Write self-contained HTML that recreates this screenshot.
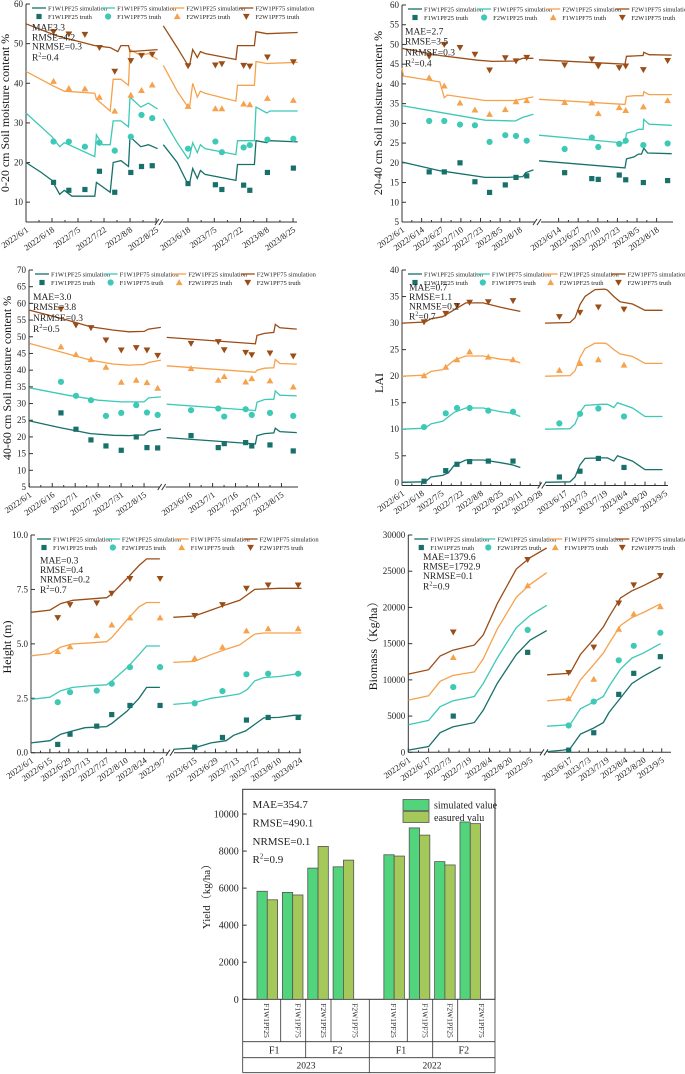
<!DOCTYPE html>
<html><head><meta charset="utf-8"><style>
html,body{margin:0;padding:0;background:#fff}
svg{display:block;font-family:"Liberation Serif","Noto Serif CJK SC",serif}
</style></head><body>
<svg id="fig" width="685" height="1074" viewBox="0 0 685 1074" xmlns="http://www.w3.org/2000/svg"></svg>
<script>
// ---------- DATA ----------
const seriesColors=['#17706a','#3ec9b6','#f6a24c','#9a4d16'];
// Panel 1: 0-20 cm
const p1SimL=[
[[0,20],[10,17.5],[17,15.5],[22,12],[25,13],[30,11.5],[45,11.5],[46,15],[55,12.5],[57,20],[62,20.5],[67,19],[68,26.5],[75,24],[80,24.5],[86,23.5]],
[[0,32.5],[17,26.5],[22,24],[25,25],[45,21.5],[46,27],[50,24.5],[55,24.5],[57,30.5],[62,30.5],[67,29],[68,36.5],[75,34],[80,35],[86,33.5]],
[[0,43],[17,39.5],[25,38],[45,37.5],[46,36],[55,33],[57,41],[62,41],[67,39.5],[68,48.5],[75,47],[80,47.5],[86,46]],
[[0,55],[20,52],[45,49.5],[55,49],[60,48],[62,49.5],[67,49.5],[68,48],[86,48.5]]];
const p1SimR=[
[[1,24.5],[10,20],[17,14.5],[18,14.8],[20,18.5],[23,16],[25,18],[28,17],[48,15.5],[49,19.5],[60,19.5],[61,25.5],[68,25],[70,25.5],[88,25.2]],
[[1,31],[10,25],[17,21],[18,21.5],[20,25],[23,22.5],[25,24.5],[28,23.5],[48,22],[49,25.5],[60,25.5],[61,34],[68,32.5],[70,33],[88,33]],
[[1,44.5],[10,38],[17,34],[18,34],[20,40],[23,36.5],[25,38],[28,37.5],[48,35.5],[49,39.5],[60,39.5],[61,45.5],[68,45],[88,45.3]],
[[1,54.5],[10,49],[17,44.5],[18,44.5],[20,48.5],[23,46.5],[25,48],[28,47.5],[48,46],[49,49.5],[60,49.5],[61,53],[68,52.5],[88,52.8]]];
const p1TDaysL=[18,28,38.5,48,58,68.5,75.5,82.5];
const p1TruthL=[[15,13,13.2,17.8,12.5,17.5,19,19.2],[25.3,25.3,24,25,23,26.5,32,31.2],[40.5,38.7,38.6,36.5,33,37,38.2,39.6],[53,52.4,52.3,49,43,45.7,47,47.3]];
const p1TDaysR=[17,34.7,38.9,53,57,68.4,85.2];
const p1TruthR=[[14.7,14.4,13.2,14.3,13,17.5,18.6],[23.5,25.3,22.6,23.8,24.4,25.8,26],[34.2,33.6,33.6,34.8,34.6,36.2,35.7],[44.4,44.6,44.9,44.5,44.3,46.6,45.4]];
const p1TicksL=['2022/6/1','2022/6/18','2022/7/5','2022/7/22','2022/8/8','2022/8/25'];
const p1TicksR=['2023/6/18','2023/7/5','2023/7/22','2023/8/8','2023/8/25'];
// Panel 2: 20-40 cm
const p2SimL=[
[[0,20.2],[25,18],[55,16.3],[70,16.3],[80,16.5],[82,17.5],[87,18.2]],
[[0,34.5],[25,32.8],[55,30.8],[75,30.6],[80,31.5],[87,32.3]],
[[0,44],[1,42],[25,40.5],[28,36.5],[30,37.2],[55,35.8],[75,35.8],[87,36.7]],
[[0,49],[25,47.2],[50,46],[60,45.7],[75,45.8],[80,46.5],[87,46.5]]];
const p2SimR=[
[[0,20.5],[57,18.7],[58,21],[63,21.5],[66,22.2],[68,22.2],[69.5,23.7],[72,22.5],[88,22.3]],
[[0,27],[57,25],[58,27.5],[63,28],[66,28.5],[69,28.5],[69.5,31],[73,29.8],[88,29.5]],
[[0,36.1],[57,34.8],[58,36.8],[63,37],[69,37],[69.5,38],[73,37.3],[88,37.3]],
[[0,46.1],[57,45],[58,47],[69,47.2],[69.5,48],[73,47.4],[88,47.3]]];
const p2TDaysL=[18,28,38.4,48.3,58,68.4,75.5,82.6];
const p2TruthL=[[17.7,17.7,20,15.2,12.5,14.4,16.3,16.7],[30.6,30.6,29.7,29.5,25.3,27,26.8,25.6],[41.6,39.5,35.2,33.4,32.3,33.5,35.5,35.8],[47,50,49.2,47.5,43.5,46.6,45.8,46.7]];
const p2TDaysR=[17,35,39.3,53.2,57.5,69.2,85.3];
const p2TruthR=[[17.5,16,15.8,16.9,15.7,15,15.5],[23.5,26.4,24,24.8,25.6,24.5,24.9],[35.3,35.2,32.5,34,33.3,34.2,35.8],[44.8,46.3,44.5,44.1,44.5,43.6,45.9]];
const p2TicksL=['2022/6/1','2022/6/14','2022/6/27','2022/7/10','2022/7/23','2022/8/5','2022/8/18'];
const p2TicksR=['2023/6/14','2023/6/27','2023/7/10','2023/7/23','2023/8/5','2023/8/18'];
// Panel 3: 40-60 cm
const p3SimL=[
[[0,24.8],[20,22.8],[40,21],[55,20.5],[65,20.4],[75,20.6],[78,21.7],[86,22.3]],
[[0,34.7],[25,32.5],[45,31],[60,30.5],[75,30.5],[78,31.7],[86,32]],
[[0,48],[20,45.5],[40,43],[55,41.8],[65,41.5],[75,41.7],[78,42.3],[86,43]],
[[0,58],[25,55],[40,53],[55,52],[65,51.5],[75,51.6],[78,52.3],[86,52.8]]];
const p3SimR=[
[[0,19.8],[58,17.9],[59,20.4],[64,21],[70,21.2],[71,22.6],[74,21.6],[85,21.3]],
[[0,29.8],[58,27.9],[59,30.4],[64,31.2],[70,31.3],[71,33.8],[74,32.5],[85,32.3]],
[[0,41.3],[58,39.4],[59,40],[64,40.6],[70,40.7],[71,43.2],[74,42],[85,41.8]],
[[0,49.8],[58,47.9],[59,50.4],[64,51],[70,51.3],[71,53.7],[74,52.7],[85,52.3]]];
const p3TDaysL=[20.7,30.5,40.3,50.1,60.1,69.9,76.9,83.9];
const p3TruthL=[[27.2,22.3,19.1,17.3,16,20,16.8,16.7],[36.5,32.3,31,26.3,27.2,29.5,27.3,26.6],[47,44.7,43.2,40.9,36.4,37,36.3,34.6],[58.3,53.5,52.7,49,46,46.7,46,44.4]];
const p3TDaysR=[15.9,33.7,37.6,51.6,55.6,67.5,82.7];
const p3TruthR=[[20.4,16.8,18,18.3,17.3,17.6,15.8],[28,28.5,26.1,28.3,26.6,27.2,26.3],[40.5,37,38.1,36.5,37.5,36.8,35],[48,48.5,46.1,45.3,44.6,45.1,44.2]];
const p3TicksL=['2022/6/1','2022/6/16','2022/7/1','2022/7/16','2022/7/31','2022/8/15'];
const p3TicksR=['2023/6/16','2023/7/1','2023/7/16','2023/7/31','2023/8/15'];
// Panel 4: LAI
const p4SimL=[
[[0,0],[20,0.1],[25,1],[35,1.3],[40,1.8],[45,3.2],[55,4.2],[70,4.2],[85,3.7],[95,3.3],[102,2.8]],
[[0,10],[20,10.2],[25,11],[35,11.5],[45,13.2],[55,14],[70,14],[85,13.3],[95,13],[102,12.4]],
[[0,20],[20,20.2],[25,20.9],[35,21.2],[45,23],[55,23.8],[70,23.8],[85,23.2],[95,23],[102,22.5]],
[[0,30],[20,30.2],[25,30.8],[35,31.2],[45,32.5],[55,33.8],[70,33.8],[85,33],[95,32.5],[102,32.2]]];
const p4SimR=[
[[0,0],[20,0.1],[24,1],[28,3.3],[32,4.5],[45,4.6],[50,4.6],[55,4],[58,5],[70,4],[80,2.4],[94,2.4]],
[[0,10],[20,10.1],[24,11],[28,13.2],[32,14.5],[45,14.7],[50,14.7],[55,14.1],[58,15],[70,14],[80,12.4],[94,12.4]],
[[0,20],[20,20.1],[24,21],[28,23.5],[32,25.2],[40,26.2],[48,26.2],[50,26],[55,25],[60,24.2],[70,23.7],[80,22.4],[94,22.4]],
[[0,30],[20,30.1],[24,31],[28,33.5],[32,35],[40,36.3],[48,36.4],[50,36.2],[55,35],[60,34],[70,33.6],[80,32.4],[94,32.4]]];
const p4TDaysL=[19,37.7,47.4,58.3,74.4,95.7];
const p4TruthL=[[0.2,2.2,3.4,3.9,4,4],[10.4,13,14,14,13.5,13.3],[20.1,21.7,23.1,24.6,23.6,23.1],[30.2,31.8,33.3,33.9,34,34.2]];
const p4TDaysR=[11.5,28,42.7,63.2];
const p4TruthR=[[1,2.1,4.5,2.8],[11.1,12.9,13.9,12.4],[21.1,22.4,23.1,22.1],[31.2,32,33,32.6]];
const p4TicksL=['2022/6/1','2022/6/18','2022/7/5','2022/7/22','2022/8/8','2022/8/25','2022/9/11','2022/9/28'];
const p4TicksR=['2023/6/17','2023/7/3','2023/7/19','2023/8/4','2023/8/20','2023/9/5'];
// Panel 5: Height
const p5SimL=[
[[0,0.45],[14,0.55],[22,0.85],[31,1.0],[40,1.15],[56,1.2],[60,1.35],[71,1.9],[80,2.5],[85.6,3.0],[95.5,3.0]],
[[0,2.45],[14,2.55],[22,2.85],[31,3.0],[45,3.08],[56,3.12],[60,3.3],[71,3.9],[80,4.5],[85.6,4.9],[95.5,4.9]],
[[0,4.45],[14,4.55],[22,4.85],[31,5.0],[45,5.05],[56,5.1],[60,5.3],[71,6.1],[80,6.7],[85.6,6.9],[95.5,6.9]],
[[0,6.45],[14,6.55],[22,6.85],[31,7.0],[45,7.07],[56,7.12],[60,7.3],[71,8.0],[80,8.6],[85.6,8.9],[95.5,8.9]]];
const p5SimR=[
[[0,0.15],[14,0.22],[25,0.45],[35,0.55],[40,0.8],[48,1.0],[54,1.3],[60,1.6],[70,1.62],[80,1.72],[85,1.72]],
[[0,2.22],[14,2.3],[25,2.5],[35,2.6],[44,2.7],[49,2.9],[54,3.3],[60,3.45],[70,3.5],[80,3.6],[85,3.62]],
[[0,4.15],[14,4.2],[25,4.5],[35,4.75],[44,4.95],[49,5.2],[54,5.45],[60,5.5],[85,5.5]],
[[0,6.22],[14,6.28],[25,6.55],[35,6.8],[44,7.0],[49,7.25],[54,7.5],[70,7.55],[85,7.55]]];
const p5TDaysL=[19.8,28.9,48.7,59.8,73.3,95.6];
const p5TruthL=[[0.38,0.85,1.22,1.75,2.17,2.17],[2.32,2.78,2.85,3.17,3.93,3.93],[4.65,4.87,5.38,5.87,6.2,6.2],[6.2,6.8,6.88,7.32,8.0,8.0]];
const p5TDaysR=[14.2,32.6,48.5,62.9,82.8];
const p5TruthR=[[0.25,0.7,1.5,1.62,1.62],[2.27,2.83,3.6,3.63,3.63],[4.33,4.85,5.6,5.7,5.7],[6.3,6.8,7.55,7.7,7.7]];
const p5TicksL=['2022/6/1','2022/6/15','2022/6/29','2022/7/13','2022/7/27','2022/8/10','2022/8/24','2022/9/7'];
const p5TicksR=['2023/6/15','2023/6/29','2023/7/13','2023/7/27','2023/8/10','2023/8/24'];
// Panel 6: Biomass
const p6SimL=[
[[0,300],[16,800],[25,2700],[35,3500],[52,4100],[59,5800],[70,9500],[85,13500],[96,15500],[109,16800]],
[[0,3800],[16,4400],[25,6300],[35,7100],[52,7700],[59,9500],[70,13000],[85,17200],[96,18900],[109,20300]],
[[0,7200],[16,7800],[25,9800],[35,10600],[52,11100],[59,12900],[70,17000],[85,21400],[96,23200],[109,24800]],
[[0,10800],[16,11400],[25,13300],[35,14100],[52,14800],[59,16200],[70,20500],[85,25300],[96,26900],[109,28200]]];
const p6SimR=[
[[-4,100],[10,300],[16,500],[25,2500],[36,3300],[45,4100],[50,5500],[60,7500],[70,9500],[80,10500],[95,11800]],
[[-4,3600],[16,3800],[25,6000],[36,6900],[45,7700],[50,9100],[60,11500],[70,13000],[80,13700],[95,15000]],
[[-4,7100],[16,7400],[25,10000],[36,12000],[45,13700],[50,15000],[60,17500],[70,18600],[80,19300],[95,20500]],
[[-4,10700],[16,10900],[25,13500],[36,15500],[45,17300],[50,18700],[60,21300],[70,22300],[80,23000],[95,24200]]];
const p6TDaysL=[35.4,94];
const p6TruthL=[[5000,13800],[9000,16900],[13100,23000],[16600,26600]];
const p6TDaysR=[14.8,36.7,58.5,71.6,94.8];
const p6TruthR=[[300,2700,8000,10900,13200],[3700,7000,12700,14700,16500],[7400,10100,17000,19100,20100],[11000,14500,20600,23100,24400]];
const p6TicksL=['2022/6/1','2022/6/17','2022/7/3','2022/7/19','2022/8/4','2022/8/20','2022/9/5'];
const p6TicksR=['2023/6/17','2023/7/3','2023/7/19','2023/8/4','2023/8/20','2023/9/5'];
// Panel 7: Yield
const yieldCats=['F1W1PF25','F1W1PF75','F2W1PF25','F2W1PF75','F1W1PF25','F1W1PF75','F2W1PF25','F2W1PF75'];
const yieldSim=[5830,5770,7080,7150,7800,9250,7430,9570];
const yieldMeas=[5370,5630,8250,7510,7730,8860,7250,9480];
const yieldTicks=[0,2000,4000,6000,8000,10000];

// ---------- DRAW ----------
const NS='http://www.w3.org/2000/svg';
const svg=document.getElementById('fig');
function el(tag,attrs,parent){const e=document.createElementNS(NS,tag);for(const k in attrs)e.setAttribute(k,attrs[k]);(parent||svg).appendChild(e);return e;}

const legA=['F1W1PF25','F1W1PF75','F2W1PF25','F2W1PF75'];
const legB=['F1W1PF25','F2W1PF25','F1W1PF75','F2W1PF75'];

function marker(g,type,x,y,col){
  let m;
  if(type===0){m=el('rect',{x:x-2.6,y:y-2.6,width:5.2,height:5.2,fill:col},g);}
  else if(type===1){m=el('circle',{cx:x,cy:y,r:3.1,fill:col},g);}
  else if(type===2){m=el('polygon',{points:`${x},${y-3.4} ${x+3.4},${y+2.6} ${x-3.4},${y+2.6}`,fill:col},g);}
  else {m=el('polygon',{points:`${x},${y+3.4} ${x+3.4},${y-2.6} ${x-3.4},${y-2.6}`,fill:col},g);}
  return m;
}

function panel(c){
  const g=el('g',{});
  
  
  const ys=v=>c.B-(v-c.y0)/(c.y1-c.y0)*(c.B-c.T);
  const xs=(seg,d)=>seg.x+d*seg.k;
  // axes
  const ax=el('g',{stroke:'#333','stroke-width':1,fill:'none'},g);
  
  
  el('line',{x1:c.L,y1:c.T,x2:c.L,y2:c.B},ax);
  el('line',{x1:c.L,y1:c.B,x2:c.brk-2,y2:c.B},ax);
  el('line',{x1:c.brk+4,y1:c.B,x2:c.R,y2:c.B},ax);
  el('line',{x1:c.brk-4,y1:c.B+3,x2:c.brk,y2:c.B-3},ax);
  el('line',{x1:c.brk,y1:c.B+3,x2:c.brk+4,y2:c.B-3},ax);
  // y ticks
  c.yt.forEach((v,i)=>{
    const y=ys(v);
    el('line',{x1:c.L,y1:y,x2:c.L+4,y2:y},ax);
    const t=el('text',{x:c.L-3,y:y+3,'font-size':9,'text-anchor':'end',fill:'#222',stroke:'none'},g);
    t.textContent=c.ytl?c.ytl[i]:v;
    
    
  });
  // x ticks
  [[c.segL,c.tkL,c.tkLd],[c.segR,c.tkR,c.tkRd]].forEach(([seg,labs,d0])=>{
    labs.forEach((lab,i)=>{
      const d=d0[0]+i*d0[1];const x=xs(seg,d);
      el('line',{x1:x,y1:c.B,x2:x,y2:c.B-4},ax);
      if(i<labs.length-1||c.minorLast){const xm=xs(seg,d+d0[1]/2);if(xm<c.R&&Math.abs(xm-c.brk)>4)el('line',{x1:xm,y1:c.B,x2:xm,y2:c.B-2},ax);}
      const t=el('text',{'font-size':8.6,'text-anchor':'end',fill:'#222',transform:`translate(${x+3},${c.B+9}) rotate(-35)`},g);
      t.textContent=lab;
      
      
    });
  });
  // y title
  const yt=el('text',{'font-size':c.yfs||12,'text-anchor':'middle',fill:'#111',transform:`translate(${c.ytx},${c.yty}) rotate(-90)`},g);
  yt.textContent=c.ytitle;
  
  
  // lines
  [[c.segL,c.simL],[c.segR,c.simR]].forEach(([seg,arr])=>{
    arr.forEach((s,i)=>{
      const p=el('polyline',{points:s.map(([d,v])=>xs(seg,d).toFixed(1)+','+ys(v).toFixed(1)).join(' '),fill:'none',stroke:seriesColors[i],'stroke-width':1.3},g);
      
      
    });
  });
  // truth
  [[c.segL,c.tdL,c.trL],[c.segR,c.tdR,c.trR]].forEach(([seg,days,arr])=>{
    arr.forEach((s,i)=>{
      s.forEach((v,j)=>{
        const m=marker(g,i,xs(seg,days[j]),ys(v),seriesColors[i]);
        
        
      });
    });
  });
  // legend
  const lg=el('g',{},g);
  
  
  for(let k=0;k<4;k++){
    const x=c.L+6+k*(c.R-c.L)*0.255;
    el('line',{x1:x,y1:c.T+4,x2:x+14,y2:c.T+4,stroke:seriesColors[k],'stroke-width':1.3},lg);
    const t1=el('text',{x:x+16,y:c.T+6.3,'font-size':6.5,fill:'#222'},lg);
    t1.textContent=c.legSim[k]+' simulation';
    
    
    marker(lg,k,x+7,c.T+12.5,seriesColors[k]);
    const t2=el('text',{x:x+16,y:c.T+14.8,'font-size':6.5,fill:'#222'},lg);
    t2.textContent=c.legTruth[k]+' truth';
    
    
  }
  // stats
  const st=el('text',{'font-size':9.5,fill:'#222'},g);
  
  
  c.stats.forEach((s,i)=>{
    const ts=el('tspan',{x:c.sx,y:c.sy[i]+3.5},st);
    if(i===3){ts.textContent='R';const sp=el('tspan',{'font-size':6,dy:-4},ts);sp.textContent='2';const r=el('tspan',{dy:4},ts);r.textContent='='+s;}
    else ts.textContent=s;
  });
}

panel({name:'soil-moisture-0-20-chart',L:26,R:297,T:4,B:222,y0:5,y1:60,yt:[10,20,30,40,50,60],brk:159,
 segL:{x:26,k:1.53},segR:{x:161.8,k:1.544},simL:p1SimL,simR:p1SimR,tdL:p1TDaysL,trL:p1TruthL,tdR:p1TDaysR,trR:p1TruthR,
 tkL:p1TicksL,tkLd:[0,17],tkR:p1TicksR,tkRd:[17,17],ytitle:'0-20 cm Soil moisture content %',ytx:9,yty:113,
 legSim:legA,legTruth:legA,stats:['MAE3.3','RMSE=4.2','NRMSE=0.3','0.4'],sx:32,sy:[27,37,46,57]});
panel({name:'soil-moisture-20-40-chart',L:402,R:673,T:5,B:222,y0:5,y1:60,yt:[5,10,15,20,25,30,35,40,45,50,55,60],brk:537,
 segL:{x:402,k:1.51},segR:{x:539,k:1.508},simL:p2SimL,simR:p2SimR,tdL:p2TDaysL,trL:p2TruthL,tdR:p2TDaysR,trR:p2TruthR,
 tkL:p2TicksL,tkLd:[0,13],tkR:p2TicksR,tkRd:[13,13],ytitle:'20-40 cm Soil moisture content %',ytx:382,yty:113,
 legSim:legA,legTruth:legB,stats:['MAE=2.7','RMSE=3.5','NRMSE=0.3','0.4'],sx:405,sy:[31,41,52,63]});
panel({name:'soil-moisture-40-60-chart',L:29,R:298,T:270,B:487,y0:5,y1:70,yt:[5,10,15,20,25,30,35,40,45,50,55,60,65,70],brk:161.7,
 segL:{x:29.3,k:1.53},segR:{x:166.7,k:1.53},simL:p3SimL,simR:p3SimR,tdL:p3TDaysL,trL:p3TruthL,tdR:p3TDaysR,trR:p3TruthR,
 tkL:p3TicksL,tkLd:[0,15],tkR:p3TicksR,tkRd:[15,15],ytitle:'40-60 cm Soil moisture content %',ytx:11,yty:378,
 legSim:legA,legTruth:legA,stats:['MAE=3.0','RMSE=3.8','NRMSE=0.3','0.5'],sx:33,sy:[296.7,306.7,317.3,328.3]});
panel({name:'lai-chart',L:402,R:668,T:270,B:485.5,y0:-0.6,y1:40,yt:[0,5,10,15,20,25,30,35,40],brk:541.7,
 segL:{x:402,k:1.16},segR:{x:545,k:1.25},simL:p4SimL,simR:p4SimR,tdL:p4TDaysL,trL:p4TruthL,tdR:p4TDaysR,trR:p4TruthR,
 tkL:p4TicksL,tkLd:[0,17],tkR:p4TicksR,tkRd:[16,16],ytitle:'LAI',ytx:383,yty:383,
 legSim:legA,legTruth:legA,stats:['MAE=0.7','RMSE=1.1','NRMSE=0.2','0.7'],sx:409,sy:[287,296.7,306,316]});
panel({name:'height-chart',L:31,R:301,T:535,B:752.7,y0:0,y1:10,yt:[0,2.5,5,7.5,10],ytl:['0.0','2.5','5.0','7.5','10.0'],brk:170,
 segL:{x:31,k:1.35},segR:{x:173.3,k:1.508},simL:p5SimL,simR:p5SimR,tdL:p5TDaysL,trL:p5TruthL,tdR:p5TDaysR,trR:p5TruthR,
 tkL:p5TicksL,tkLd:[0,14],tkR:p5TicksR,tkRd:[14,14],ytitle:'Height (m)',ytx:11,yty:647,
 legSim:legB,legTruth:legB,stats:['MAE=0.3','RMSE=0.4','NRMSE=0.2','0.7'],sx:40,sy:[560,569.3,579,589.3]});
panel({name:'biomass-chart',L:408.3,R:671,T:535,B:752.3,y0:0,y1:30000,yt:[0,5000,10000,15000,20000,25000,30000],brk:544,
 segL:{x:408.3,k:1.27},segR:{x:551.7,k:1.146},simL:p6SimL,simR:p6SimR,tdL:p6TDaysL,trL:p6TruthL,tdR:p6TDaysR,trR:p6TruthR,
 tkL:p6TicksL,tkLd:[0,16],tkR:p6TicksR,tkRd:[16,16],ytitle:'Biomass（Kg/ha）',ytx:377,yty:643,
 legSim:legB,legTruth:legB,stats:['MAE=1379.6','RMSE=1792.9','NRMSE=0.1','0.9'],sx:423,sy:[556.7,566,575.7,586]});

// ---------- Yield bar chart ----------
(function(){
  const L=242.7,R=495,T=789.3,B=999.3,yMax=11333;
  const ys=v=>B-v/yMax*(B-T);
  const xc=i=>267.3+(i<4?i:i+1)*25.37;
  const g=el('g',{});
  
  
  const fr=el('rect',{x:L,y:T,width:R-L,height:B-T,fill:'none',stroke:'#333','stroke-width':1},g);
  
  
  yieldTicks.forEach(v=>{
    const y=ys(v);
    el('line',{x1:L,y1:y,x2:L+4,y2:y,stroke:'#333'},g);
    const t=el('text',{x:L-4,y:y+3.5,'font-size':10,'text-anchor':'end',fill:'#222'},g);
    t.textContent=v;
    
    
  });
  yieldCats.forEach((cat,i)=>{
    const b1=el('rect',{x:xc(i)-10.3,y:ys(yieldSim[i]),width:10.3,height:B-ys(yieldSim[i]),fill:'#52d47c',stroke:'#555','stroke-width':0.8},g);
    
    
    const b2=el('rect',{x:xc(i),y:ys(yieldMeas[i]),width:10.3,height:B-ys(yieldMeas[i]),fill:'#a4c95a',stroke:'#555','stroke-width':0.8},g);
    
    
  });
  // table
  const tb=el('g',{stroke:'#333','stroke-width':0.8,fill:'none'},g);
  
  
  const r1=1041.7,r2=1057.7,r3=1072.7;
  el('line',{x1:L,y1:B,x2:L,y2:r3},tb);el('line',{x1:R,y1:B,x2:R,y2:r3},tb);
  [r1,r2,r3].forEach(y=>el('line',{x1:L,y1:y,x2:R,y2:y},tb));
  const cb=[242.7,280.7,305.7,331,331+38.3,407.3,432.7,457.7,495];
  [280.7,305.7,331,369.3,407.3,432.7,457.7].forEach(x=>el('line',{x1:x,y1:B,x2:x,y2:r1},tb));
  [305.7,369.3,432.7].forEach(x=>el('line',{x1:x,y1:r1,x2:x,y2:r2},tb));
  el('line',{x1:369.3,y1:r2,x2:369.3,y2:r3},tb);
  yieldCats.forEach((cat,i)=>{
    const cx=(cb[i]+cb[i+1])/2;
    const t=el('text',{'font-size':7.5,'text-anchor':'middle',fill:'#222',transform:`translate(${cx+2.5},${(B+r1)/2}) rotate(90)`},g);
    t.textContent=cat;
    
    
  });
  [['F1',274.2],['F2',337.5],['F1',401],['F2',463.8]].forEach(([s,x])=>{
    const t=el('text',{x:x,y:r2-4,'font-size':10,'text-anchor':'middle',fill:'#222'},g);
    t.textContent=s;
    
    
  });
  [['2023',306],['2022',432]].forEach(([s,x])=>{
    const t=el('text',{x:x,y:r3-4,'font-size':9.5,'text-anchor':'middle',fill:'#222'},g);
    t.textContent=s;
    
    
  });
  const yt=el('text',{'font-size':11,'text-anchor':'middle',fill:'#222',transform:'translate(210,894) rotate(-90)'},g);
  yt.textContent='Yield（kg/ha）';
  
  
  // legend
  const lg=el('g',{},g);
  
  
  el('rect',{x:403,y:799.5,width:26,height:11,fill:'#52d47c',stroke:'#555','stroke-width':0.8},lg);
  el('rect',{x:403,y:811.5,width:26,height:11,fill:'#a4c95a',stroke:'#555','stroke-width':0.8},lg);
  const l1=el('text',{x:434,y:808.5,'font-size':10,fill:'#222'},lg);l1.textContent='simulated value';
  
  
  const l2=el('text',{x:434,y:821,'font-size':10,fill:'#222'},lg);l2.textContent='easured valu';
  
  
  const st=el('text',{'font-size':11,fill:'#222'},g);
  
  
  const lines=['MAE=354.7','RMSE=490.1','NRMSE=0.1'];
  const ly=[808,826.5,845,863];
  lines.forEach((s,i)=>{const t=el('tspan',{x:252.5,y:ly[i]},st);t.textContent=s;});
  const t4=el('tspan',{x:252.5,y:ly[3]},st);t4.textContent='R';
  const sp=el('tspan',{'font-size':7,dy:-4.5},t4);sp.textContent='2';
  const rr=el('tspan',{dy:4.5},t4);rr.textContent='=0.9';
})();
</script>
</body></html>
